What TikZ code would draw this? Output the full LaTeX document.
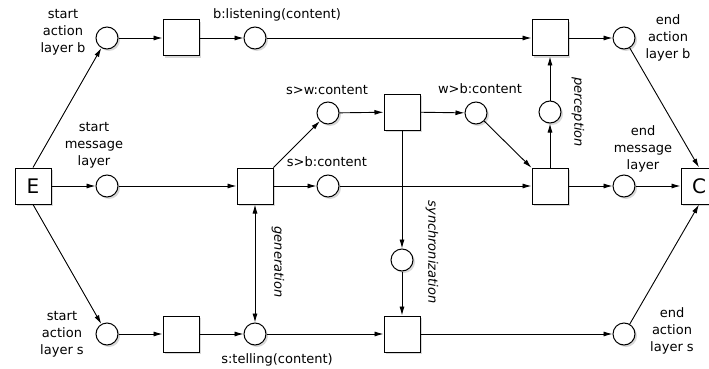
\documentclass[tikz,border=0pt]{standalone}
\usepackage{fontspec}
\setmainfont{DejaVu Sans}
\usetikzlibrary{arrows.meta,shadows}
\begin{document}
\begin{tikzpicture}[x=1pt,y=-1pt,
  shad/.style={drop shadow={shadow xshift=2pt,shadow yshift=-2pt,fill=black!30}},
  place/.style={circle,draw,line width=1pt,minimum size=22pt,inner sep=0pt,fill=white,shad},
  trans/.style={rectangle,draw,line width=1pt,minimum size=36pt,inner sep=0pt,fill=white,shad,font=\fontsize{20}{24}\selectfont},
  arc/.style={-{Latex[length=9pt,width=5pt]},line width=0.9pt},
  darc/.style={{Latex[length=9pt,width=5pt]}-{Latex[length=9pt,width=5pt]},line width=0.9pt},
  lbl/.style={font=\fontsize{13}{17}\selectfont,align=center,inner sep=0pt},
  rlbl/.style={font=\fontsize{13}{17}\selectfont\itshape,rotate=-90,inner sep=0pt}]
\useasboundingbox (0,0) rectangle (709,369);
% nodes
\node[trans] (E) at (33,186) {E};
\node[place] (sb) at (107,38) {};
\node[trans] (t1) at (181,38) {};
\node[place] (bl) at (255,38) {};
\node[trans] (tb) at (550,38) {};
\node[place] (eb) at (624,38) {};
\node[place] (sm) at (107,186) {};
\node[trans] (ts) at (255,186) {};
\node[place] (sbc) at (328,186) {};
\node[trans] (rm) at (550,186) {};
\node[place] (em) at (624,186) {};
\node[trans] (C) at (699,186) {C};
\node[place] (sw) at (328,113) {};
\node[trans] (tw) at (402,112) {};
\node[place] (wb) at (476,113) {};
\node[place] (per) at (550,112) {};
\node[place] (sync) at (402,260) {};
\node[place] (ss) at (107,334) {};
\node[trans] (t2) at (181,334) {};
\node[place] (st) at (255,334) {};
\node[trans] (tbot) at (402,334) {};
\node[place] (es) at (624,334) {};
% labels
\node[lbl] (l1) at (63,32) {start\\action\\layer b};
\node[lbl] (l2) at (277,15) {b:listening(content)};
\node[lbl] (l3) at (94,145) {start\\message\\layer};
\node[lbl] (l4) at (327,90) {s>w:content};
\node[lbl] (l5) at (327,162) {s>b:content};
\node[lbl] (l6) at (480,89) {w>b:content};
\node[rlbl] (l7) at (578,112) {perception};
\node[lbl] (l8) at (668,38) {end\\action\\layer b};
\node[lbl] (l9) at (643,149) {end\\message\\layer};
\node[rlbl] (l10) at (278,262) {generation};
\node[rlbl] (l11) at (432,252) {synchronization};
\node[lbl] (l12) at (62,334) {start\\action\\layer s};
\node[lbl] (l13) at (277,360) {s:telling(content)};
\node[lbl] (l14) at (672,331) {end\\action\\layer s};
% arcs
\draw[arc] (E.north) -- (sb);
\draw[arc] (E) -- (sm);
\draw[arc] (E.south) -- (ss);
\draw[arc] (sb) -- (t1);
\draw[arc] (t1) -- (bl);
\draw[arc] (bl) -- (tb);
\draw[arc] (tb) -- (eb);
\draw[arc] (eb) -- (C.north);
\draw[arc] (sm) -- (ts);
\draw[arc] (ts) -- (sw);
\draw[arc] (ts) -- (sbc);
\draw[arc] (sbc) -- (rm);
\draw[arc] (sw) -- (tw);
\draw[arc] (tw) -- (wb);
\draw[arc] (wb) -- (rm);
\draw[arc] (rm) -- (per);
\draw[arc] (per) -- (tb);
\draw[arc] (rm) -- (em);
\draw[arc] (em) -- (C);
\draw[arc] (tw) -- (sync);
\draw[arc] (sync) -- (tbot);
\draw[darc] (ts) -- (st);
\draw[arc] (ss) -- (t2);
\draw[arc] (t2) -- (st);
\draw[arc] (st) -- (tbot);
\draw[arc] (tbot) -- (es);
\draw[arc] (es) -- (C.south);
\end{tikzpicture}
\end{document}
